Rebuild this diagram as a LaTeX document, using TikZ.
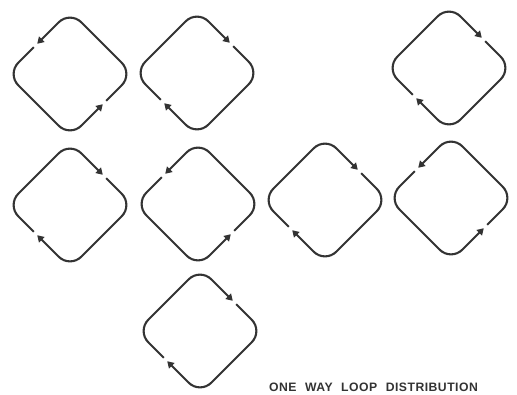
\documentclass[tikz,border=0pt]{standalone}
\usepackage{fontspec}
\usepackage{xcolor}
\usepackage{tikz}
\usetikzlibrary{arrows.meta,calc}
\newfontfamily\labelfont[LetterSpace=4,WordSpace=2.2]{Liberation Sans}
\definecolor{loopgray}{HTML}{333333}

\begin{document}
\begin{tikzpicture}[
    x=1pt, y=-1pt,
    loopline/.style={draw=loopgray, line width=2.1pt, rounded corners=16pt,
        -{Triangle[length=6.5pt,width=7.5pt]}},
    caption/.style={font=\labelfont\bfseries\fontsize{12.2}{14}\selectfont, text=loopgray, inner sep=0pt}
]
    \useasboundingbox (0,0) rectangle (517,394);

    % loops: centre x / centre y / sense (1 = clockwise, -1 = anticlockwise)
    \foreach \cx/\cy/\sense [count=\i] in {70/74/-1, 197/73/1, 449/68/1,
        70/205/1, 198/204/-1, 325/200/1, 451/198/-1, 200/331/1} {
        \begin{scope}[shift={(\cx,\cy)}, xscale=\sense]
            \coordinate (loop\i) at (0,0);
            \draw[loopline] (36.2,-26.8) -- (63,0) -- (0,63) -- (-32.8,30.2);
            \draw[loopline] (-36.2,26.8) -- (-63,0) -- (0,-63) -- (32.8,-30.2);
        \end{scope}
    }

    \node[caption, anchor=base] (title) at (373.5,391) {ONE WAY LOOP DISTRIBUTION};
\end{tikzpicture}
\end{document}
